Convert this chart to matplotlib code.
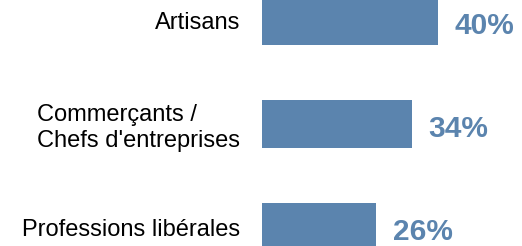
import matplotlib
matplotlib.use("Agg")
import matplotlib.pyplot as plt

categories = ["Artisans", "Commerçants /\nChefs d'entreprises", "Professions libérales"]
values = [40, 34, 26]

bar_color = "#5b84ae"

plt.rcParams['font.family'] = ['Liberation Sans', 'DejaVu Sans']

fig = plt.figure(figsize=(5.22, 2.46), dpi=100)
# axes starts where the bars start
ax = fig.add_axes([262 / 522, 0, 260 / 522, 1])

pos = list(range(len(categories)))
ax.barh(pos, values, height=0.466, color=bar_color)
ax.set_xlim(0, 260 / 4.4)
ax.set_ylim(2 + 19 / 103, -21 / 103)

for p, v in zip(pos, values):
    ax.annotate(f"{v}%", (v, p), xytext=(12, -3.5), textcoords='offset points',
                va='center', ha='left', fontsize=21.5, fontweight='bold',
                color=bar_color)

ax.set_yticks(pos)
ax.set_yticklabels(categories, fontsize=17)
for lab in ax.get_yticklabels():
    lab.set_multialignment('left')
ax.tick_params(axis='y', length=0, pad=15.5)
ax.set_xticks([])
for s in ax.spines.values():
    s.set_visible(False)

fig.savefig("out.png", dpi=100)
